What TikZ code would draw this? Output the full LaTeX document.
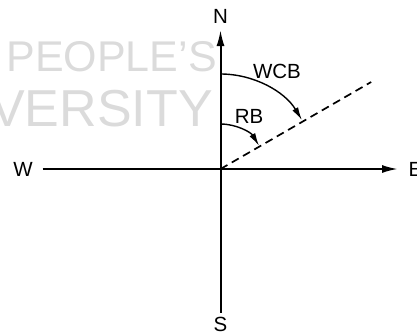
\documentclass[tikz,border=0pt]{standalone}
\usepackage{fontspec}
\setmainfont{Liberation Sans}
\usetikzlibrary{arrows.meta}
\begin{document}
\begin{tikzpicture}[x=1pt,y=1pt,
  axis/.style={line width=2pt},
  bigtip/.style={-{Latex[length=16pt,width=8pt]}},
  arctip/.style={line width=1.4pt,-{Latex[length=13pt,width=6.5pt]}},
  lbl/.style={font=\fontsize{20.5}{20.5}\selectfont,inner sep=0pt},
  wm/.style={text=black!14,inner sep=0pt,anchor=base east}]
\useasboundingbox (-220.5,-166) rectangle (196.5,169);
% watermark
\node[wm,font=\fontsize{43}{43}\selectfont] (wm1) at (-3.5,97.3) {PEOPLE’S};
\node[wm,font=\fontsize{52}{52}\selectfont] (wm2) at (-7.5,42.3) {VERSITY};
% coordinates
\coordinate (O) at (0,0);
\coordinate (Nend) at (0,139);
\coordinate (Send) at (0,-143.7);
\coordinate (Wend) at (-177.8,0);
\coordinate (Eend) at (177.5,0);
\coordinate (D) at (30:174);
% labels
\node[lbl] (N) at (0,152.3) {N};
\node[lbl] (S) at (0,-155) {S};
\node[lbl] (W) at (-197.5,0) {W};
\node[lbl] (E) at (195,0) {E};
\node[lbl] (WCB) at (56.5,98) {WCB};
\node[lbl] (RB) at (28.5,52.5) {RB};
% axes
\draw[axis,bigtip] (Send) -- (Nend);
\draw[axis,bigtip] (Wend) -- (Eend);
% bearing line
\draw[line width=1.7pt,dash pattern=on 8pt off 5pt] (O) -- (D);
% arcs
\draw[arctip] (0,95) arc[start angle=90,end angle=31,radius=95];
\draw[arctip] (0,45) arc[start angle=90,end angle=31,radius=45];
\end{tikzpicture}
\end{document}
